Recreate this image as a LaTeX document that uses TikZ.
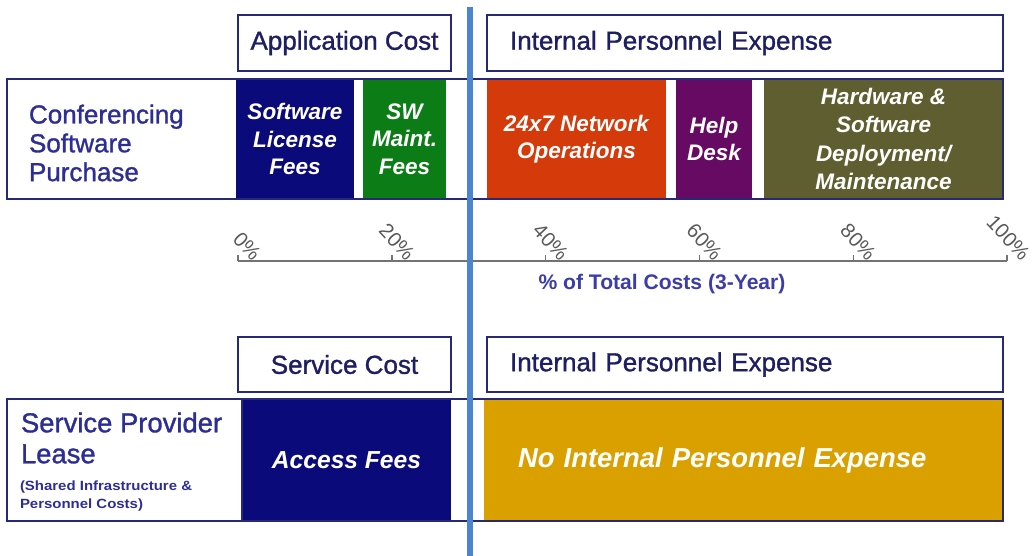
\documentclass[tikz,border=0pt]{standalone}
\usepackage{fontspec}
\setmainfont{Liberation Sans}
\newfontfamily\mdfont[FakeBold=1.2]{Liberation Sans}
\newfontfamily\notefont[FakeStretch=1.12]{Liberation Sans}
\usepackage{xcolor}
\usetikzlibrary{positioning}

\definecolor{cnavy}{RGB}{10,10,122}
\definecolor{cgreen}{RGB}{12,125,22}
\definecolor{cred}{RGB}{212,58,10}
\definecolor{cpurple}{RGB}{102,10,100}
\definecolor{colive}{RGB}{94,94,48}
\definecolor{cgold}{RGB}{218,160,0}
\definecolor{cdiv}{RGB}{74,134,208}
\definecolor{cedge}{RGB}{40,40,120}
\definecolor{ctext}{RGB}{30,30,100}
\definecolor{clabel}{RGB}{45,45,150}
\definecolor{ctitle}{RGB}{60,60,170}

\begin{document}
\begin{tikzpicture}[x=0.025cm,y=-0.025cm,inner sep=0pt,outer sep=0pt,
    sz/.style 2 args={minimum width=#1*0.025cm,minimum height=#2*0.025cm,anchor=north west},
    hdr/.style={draw=cedge,line width=1pt,fill=white,text=ctext,font=\mdfont\fontsize{18.5}{22}\selectfont},
    blk/.style={text=white,align=center,font=\fontsize{16}{19.5}\selectfont\bfseries\itshape},
    row/.style={draw=cedge,line width=1pt},
    lbl/.style={anchor=west,align=left,text=clabel,font=\mdfont\fontsize{18.5}{20.5}\selectfont},
    tick/.style={anchor=east,rotate=-47,text=black!65,font=\fontsize{14.5}{16}\selectfont},
    axis/.style={draw=black!55,line width=1.2pt}]
  \useasboundingbox (0,0) rectangle (1032,556);

  % application / personnel headers
  \node[hdr,sz={213}{56}] (h_app) at (238,15) {Application Cost};
  \node[hdr,sz={516}{56},align=left,text width=470*0.025cm] (h_int) at (487,15) {Internal Personnel Expense};

  % purchase row
  \node[blk,sz={118}{120},fill=cnavy] (b_lic) at (236,79) {Software\\License\\Fees};
  \node[blk,sz={83}{120},fill=cgreen] (b_mnt) at (363,79) {SW\\Maint.\\Fees};
  \node[blk,sz={179}{120},fill=cred] (b_ops) at (487,79) {24x7 Network\\Operations};
  \node[blk,sz={76}{120},fill=cpurple] (b_help) at (676,79) {Help\\Desk};
  \node[blk,sz={239}{120},fill=colive,font=\fontsize{16}{20}\selectfont\bfseries\itshape] (b_hw) at (764,79) {Hardware \&\\Software\\Deployment/\\Maintenance};
  \node[row,sz={996}{120}] (r_buy) at (7,79) {};
  \node[lbl] (l_buy) at (29,143) {Conferencing\\Software\\Purchase};

  % percentage axis
  \coordinate (ax_a) at (238,261);
  \coordinate (ax_b) at (1007,261);
  \draw[axis] (ax_a) -- (ax_b);
  \foreach \p in {0,20,40,60,80,100}{
    \draw[axis,line width=1pt] (238+7.69*\p,261) -- ++(0,-6);
    \node[tick] (t\p) at (238+7.69*\p+19,257) {\p\%};
  }
  \node[text=ctitle,font=\fontsize{15}{17}\selectfont\bfseries] (ax_ttl) at (662,284) {\% of Total Costs (3-Year)};

  % service / personnel headers
  \node[hdr,sz={213}{55}] (h_svc) at (238,337) {Service Cost};
  \node[hdr,sz={516}{55},align=left,text width=470*0.025cm] (h_int2) at (487,337) {Internal Personnel Expense};

  % lease row
  \node[blk,sz={209}{122},fill=cnavy,font=\fontsize{17.5}{20}\selectfont\bfseries\itshape] (b_acc) at (242,399) {Access Fees};
  \node[blk,sz={519}{122},fill=cgold,align=left,text width=451*0.025cm,font=\fontsize{19.5}{22}\selectfont\bfseries\itshape] (b_none) at (484,399) {No Internal Personnel Expense};
  \node[row,sz={996}{122}] (r_lease) at (7,399) {};
  \draw[row,line width=0.8pt] (b_acc.north west) -- (b_acc.south west);
  \node[lbl,font=\mdfont\fontsize{19.5}{22}\selectfont] (l_lease) at (21,438) {Service Provider\\Lease};
  \node[lbl,font=\notefont\fontsize{9.5}{12.5}\selectfont\bfseries] (l_note) at (20,496) {(Shared Infrastructure \&\\Personnel Costs)};

  % divider
  \coordinate (d_top) at (470,7);
  \coordinate (d_bot) at (470,556);
  \draw[cdiv,line width=4.3pt] (d_top) -- (d_bot);
\end{tikzpicture}
\end{document}
